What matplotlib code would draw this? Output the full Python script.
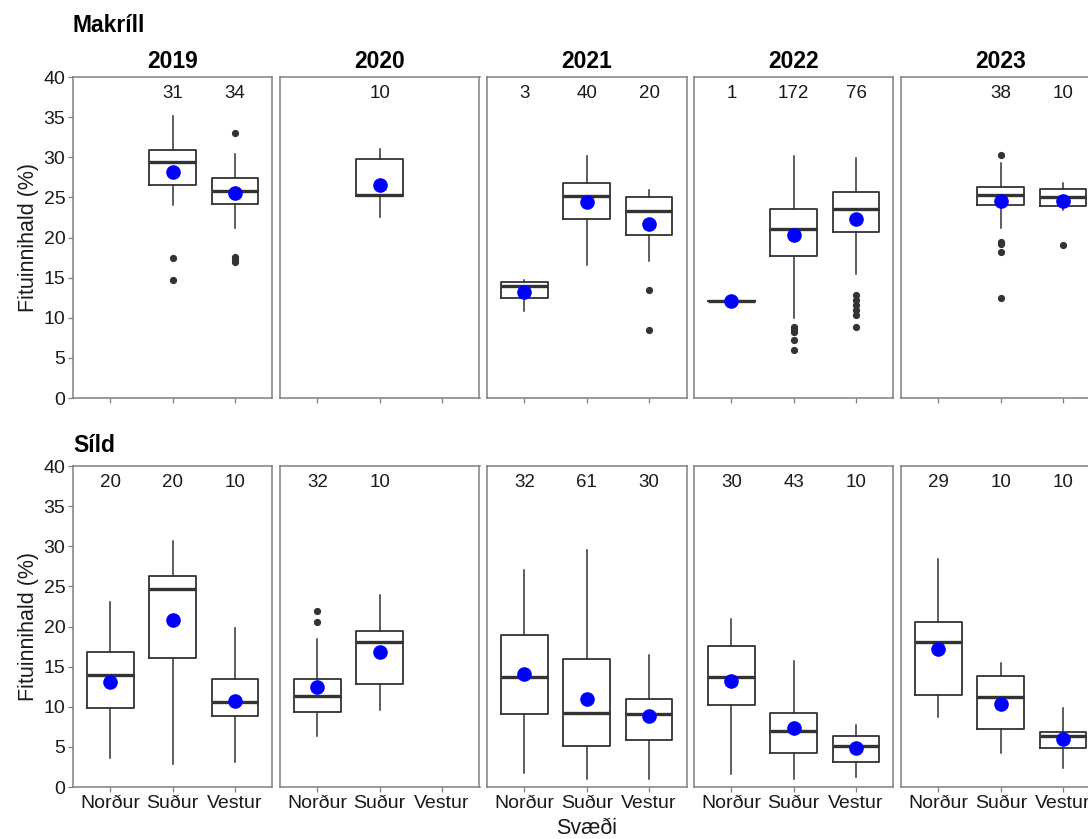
import numpy as np
import matplotlib
matplotlib.use("Agg")
import matplotlib.pyplot as plt

plt.rcParams['font.family'] = ['Liberation Sans', 'DejaVu Sans']

nan = np.nan
years = [2019, 2020, 2021, 2022, 2023]
regions = ['Norður', 'Suður', 'Vestur']
species = ['Makríll', 'Síld']

# Makríll: rows = years, columns = regions
mak_n = [[None, 31, 34], [None, 10, None], [3, 40, 20], [1, 172, 76], [None, 38, 10]]
mak_med = [[nan, 29.4, 25.8], [nan, 25.35, nan], [14.0, 25.2, 23.35], [12.1, 21.1, 23.6], [nan, 25.35, 25.1]]
mak_q1 = [[nan, 26.5, 24.2], [nan, 25.2, nan], [12.4, 22.3, 20.35], [12.1, 17.7, 20.65], [nan, 24.0, 23.9]]
mak_q3 = [[nan, 30.9, 27.45], [nan, 29.75, nan], [14.4, 26.8, 25.0], [12.1, 23.6, 25.7], [nan, 26.25, 26.1]]
mak_lo = [[nan, 24.1, 21.2], [nan, 22.6, nan], [10.9, 16.6, 17.1], [12.1, 10.0, 15.4], [nan, 21.2, 23.4]]
mak_hi = [[nan, 35.1, 30.4], [nan, 31.0, nan], [14.7, 30.2, 25.9], [12.1, 30.2, 29.9], [nan, 29.3, 26.8]]
mak_mean = [[nan, 28.2, 25.6], [nan, 26.6, nan], [13.25, 24.4, 21.7], [12.1, 20.3, 22.35], [nan, 24.6, 24.6]]
mak_fliers = [
    [[], [17.4, 14.75], [33.0, 17.6, 17.2, 16.9]],
    [[], [], []],
    [[], [], [13.4, 8.5]],
    [[], [8.9, 8.55, 8.25, 7.2, 6.0], [12.8, 12.2, 11.6, 11.0, 10.3, 8.9]],
    [[], [30.3, 19.5, 19.2, 18.2, 12.5], [19.1]],
]

# Síld
sild_n = [[20, 20, 10], [32, 10, None], [32, 61, 30], [30, 43, 10], [29, 10, 10]]
sild_med = [[13.9, 24.7, 10.65], [11.4, 18.1, nan], [13.7, 9.25, 9.1], [13.65, 6.95, 5.1], [18.05, 11.25, 6.4]]
sild_q1 = [[9.9, 16.05, 8.8], [9.3, 12.85, nan], [9.05, 5.1, 5.8], [10.2, 4.25, 3.1], [11.45, 7.2, 4.9]]
sild_q3 = [[16.8, 26.25, 13.45], [13.5, 19.5, nan], [19.0, 15.95, 11.0], [17.6, 9.2, 6.4], [20.55, 13.8, 6.9]]
sild_lo = [[3.6, 2.85, 3.1], [6.3, 9.6, nan], [1.7, 1.0, 1.0], [1.6, 1.0, 1.3], [8.7, 4.25, 2.4]]
sild_hi = [[23.0, 30.6, 19.8], [18.4, 23.9, nan], [27.1, 29.5, 16.4], [20.9, 15.75, 7.7], [28.35, 15.4, 9.9]]
sild_mean = [[13.1, 20.85, 10.75], [12.4, 16.8, nan], [14.05, 11.0, 8.8], [13.2, 7.3, 4.8], [17.25, 10.4, 6.0]]
sild_fliers = [
    [[], [], []],
    [[21.95, 20.55], [], []],
    [[], [], []],
    [[], [], []],
    [[], [], []],
]

yticks = [0, 5, 10, 15, 20, 25, 30, 35, 40]

data = {
    'Makríll': (mak_n, mak_med, mak_q1, mak_q3, mak_lo, mak_hi, mak_mean, mak_fliers),
    'Síld': (sild_n, sild_med, sild_q1, sild_q3, sild_lo, sild_hi, sild_mean, sild_fliers),
}

W, H = 1088, 839
fig = plt.figure(figsize=(W / 100, H / 100), dpi=100)

panel_left = [73, 280, 487, 694, 901]
panel_w = 199.5
panel_h = 321
row_top = [77, 466]
row_title_y = [25, 445]

box_col = '#333333'
frame_col = '#808080'
text_col = '#1a1a1a'
tick_fs = 14
title_fs = 16.5
axis_fs = 15.5

for r, sp in enumerate(species):
    n, med, q1, q3, lo, hi, mean, fliers = data[sp]
    fig.text(73 / W, 1 - row_title_y[r] / H, sp, fontsize=title_fs, fontweight='bold',
             ha='left', va='center', color='black')
    for c, yr in enumerate(years):
        ax = fig.add_axes([panel_left[c] / W, 1 - (row_top[r] + panel_h) / H,
                           panel_w / W, panel_h / H])
        stats, pos = [], []
        for k in range(3):
            if n[c][k] is None:
                continue
            stats.append(dict(med=med[c][k], q1=q1[c][k], q3=q3[c][k],
                              whislo=lo[c][k], whishi=hi[c][k],
                              fliers=fliers[c][k], mean=mean[c][k]))
            pos.append(k)
        ax.bxp(stats, positions=pos, widths=0.75, showcaps=False, showmeans=True,
               patch_artist=False, manage_ticks=False,
               boxprops=dict(color=box_col, linewidth=1.3),
               whiskerprops=dict(color=box_col, linewidth=1.1),
               medianprops=dict(color=box_col, linewidth=2.4),
               flierprops=dict(marker='o', markerfacecolor=box_col, markeredgecolor=box_col,
                               markersize=4.2),
               meanprops=dict(marker='o', markerfacecolor='#0000ff', markeredgecolor='#0000ff',
                              markersize=9.5),
               zorder=3)
        for k in range(3):
            if n[c][k] is not None:
                ax.text(k, 38, str(n[c][k]), ha='center', va='center',
                        fontsize=13.5, color=text_col)
        ax.set_xlim(-0.6, 2.6)
        ax.set_ylim(0, 40)
        ax.set_xticks(range(3))
        if r == 1:
            ax.set_xticklabels(regions, fontsize=tick_fs, color=text_col)
        else:
            ax.set_xticklabels([])
        if c == 0:
            ax.set_yticks(yticks)
            ax.set_yticklabels([str(v) for v in yticks], fontsize=tick_fs, color=text_col)
            ax.set_ylabel('Fituinnihald (%)', fontsize=axis_fs, color=text_col, labelpad=3)
        else:
            ax.set_yticks([])
        ax.tick_params(direction='out', length=3.5, width=0.9, color=frame_col, pad=2)
        for s in ax.spines.values():
            s.set_color(frame_col)
            s.set_linewidth(1.1)
        if r == 0:
            fig.text((panel_left[c] + panel_w / 2) / W, 1 - 61 / H, str(yr),
                     fontsize=title_fs, fontweight='bold', ha='center', va='center',
                     color='black')

fig.text((73 + 1100) / 2 / W, 1 - 828 / H, 'Svæði', fontsize=axis_fs, ha='center',
         va='center', color=text_col)

fig.savefig('out.png', dpi=100)
